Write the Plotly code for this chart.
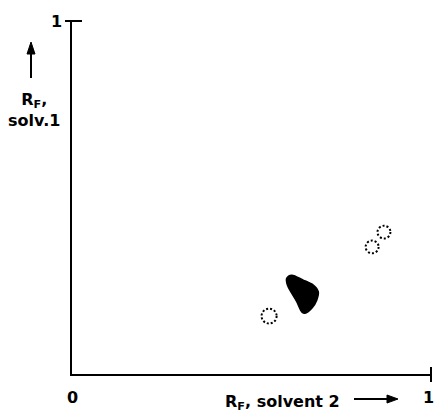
import plotly.graph_objects as go

# --- data (Rf values) ---
spot_x = [0.549, 0.836, 0.869]          # Rf, solvent 2 (dotted spots)
spot_y = [0.164, 0.360, 0.402]          # Rf, solv.1
spot_r = [0.021, 0.018, 0.018]          # spot radius in Rf units

blob_x = [0.598, 0.612, 0.644, 0.672, 0.686, 0.682, 0.668, 0.649, 0.640, 0.626, 0.612, 0.600]
blob_y = [0.271, 0.280, 0.266, 0.252, 0.233, 0.210, 0.186, 0.172, 0.176, 0.205, 0.229, 0.252]

x_tick_vals = [0, 1]
x_tick_text = ["0", "1"]
y_tick_vals = [1]
y_tick_text = ["1"]

FONT = dict(family="DejaVu Sans", size=16, color="black", weight=700)
W, H = 435, 412
L, R, T, B = 72, 4, 21, 38
PW, PH = W - L - R, H - T - B


def px(x):
    return (x - L) / PW


def py(y):
    return (H - B - y) / PH


fig = go.Figure()
fig.add_trace(go.Scatter(
    x=blob_x + blob_x[:1], y=blob_y + blob_y[:1],
    mode="lines", fill="toself", fillcolor="black",
    line=dict(color="black", width=1.5, shape="spline", smoothing=0.9),
    hoverinfo="skip", showlegend=False))

shapes = []
for cx, cy, r in zip(spot_x, spot_y, spot_r):
    shapes.append(dict(type="circle", xref="x", yref="y",
                       x0=cx - r, x1=cx + r, y0=cy - r, y1=cy + r,
                       line=dict(color="black", width=2, dash="2px,2px")))
# end tick marks
shapes.append(dict(type="line", xref="paper", yref="paper",
                   x0=px(65), x1=px(82), y0=1, y1=1,
                   line=dict(color="black", width=2)))
shapes.append(dict(type="line", xref="paper", yref="paper",
                   x0=1, x1=1, y0=py(367), y1=py(382),
                   line=dict(color="black", width=2)))
# x-direction arrow
shapes.append(dict(type="line", xref="paper", yref="paper",
                   x0=px(354), x1=px(390), y0=py(399), y1=py(399),
                   line=dict(color="black", width=2)))
shapes.append(dict(type="path", xref="paper", yref="paper",
                   path=f"M {px(398)} {py(399)} L {px(387)} {py(395)} L {px(387)} {py(403)} Z",
                   fillcolor="black", line=dict(color="black", width=1)))
# y-direction arrow
shapes.append(dict(type="line", xref="paper", yref="paper",
                   x0=px(31), x1=px(31), y0=py(78), y1=py(50),
                   line=dict(color="black", width=2)))
shapes.append(dict(type="path", xref="paper", yref="paper",
                   path=f"M {px(31)} {py(42)} L {px(27)} {py(54)} L {px(35)} {py(54)} Z",
                   fillcolor="black", line=dict(color="black", width=1)))

annotations = []
for v, t in zip(x_tick_vals, x_tick_text):
    if v == 1:
        annotations.append(dict(x=px(435), y=py(397), xref="paper", yref="paper", text=t,
                                showarrow=False, font=FONT, xanchor="right", yanchor="middle",
                                borderpad=0))
    else:
        annotations.append(dict(x=v, y=py(397), xref="x", yref="paper", text=t,
                                showarrow=False, font=FONT, xanchor="center", yanchor="middle"))
for v, t in zip(y_tick_vals, y_tick_text):
    annotations.append(dict(x=px(56), y=v, xref="paper", yref="y", text=t,
                            showarrow=False, font=FONT, xanchor="center", yanchor="middle"))

# axis titles
annotations.append(dict(x=px(282), y=py(402), xref="paper", yref="paper",
                        text="R<sub>F</sub>, solvent 2", showarrow=False, font=FONT,
                        xanchor="center", yanchor="middle"))
annotations.append(dict(x=px(34), y=py(110), xref="paper", yref="paper",
                        text="R<sub>F</sub>,<br>solv.1", showarrow=False, font=FONT,
                        align="center", xanchor="center", yanchor="middle", borderpad=0))

fig.update_layout(
    width=W, height=H,
    margin=dict(l=L, r=R, t=T, b=B),
    paper_bgcolor="white", plot_bgcolor="white",
    shapes=shapes, annotations=annotations,
    xaxis=dict(range=[0, 1], showline=True, linecolor="black", linewidth=2,
               showgrid=False, zeroline=False, showticklabels=False, ticks=""),
    yaxis=dict(range=[0, 1], showline=True, linecolor="black", linewidth=2,
               showgrid=False, zeroline=False, showticklabels=False, ticks=""),
)
fig.write_html("out.html")
